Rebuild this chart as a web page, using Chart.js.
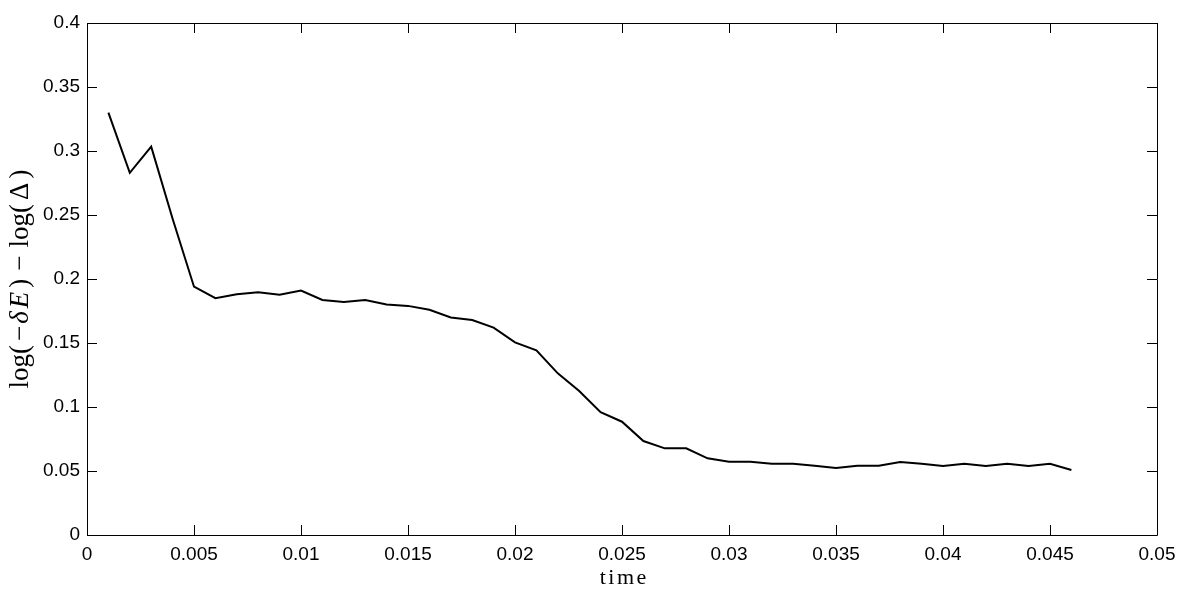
<!DOCTYPE html>
<html>
<head>
<meta charset="utf-8">
<script src="https://cdn.jsdelivr.net/npm/chart.js@4/dist/chart.umd.min.js"></script>
<style>
  body { margin: 0; background: #fff; }
  canvas { display: block; }
</style>
</head>
<body>
<canvas id="myChart" width="1187" height="610"></canvas>
<script>
// time steps (x) and measured values (y)
var times = [0.001, 0.002, 0.003, 0.004, 0.005, 0.006, 0.007, 0.008, 0.009, 0.010,
             0.011, 0.012, 0.013, 0.014, 0.015, 0.016, 0.017, 0.018, 0.019, 0.020,
             0.021, 0.022, 0.023, 0.024, 0.025, 0.026, 0.027, 0.028, 0.029, 0.030,
             0.031, 0.032, 0.033, 0.034, 0.035, 0.036, 0.037, 0.038, 0.039, 0.040,
             0.041, 0.042, 0.043, 0.044, 0.045, 0.046];
var values = [0.330, 0.283, 0.3034, 0.247, 0.194, 0.185, 0.188, 0.1896, 0.1877, 0.191,
              0.1836, 0.182, 0.1836, 0.180, 0.179, 0.176, 0.170, 0.168, 0.162, 0.1505,
              0.1443, 0.1263, 0.1125, 0.0959, 0.0885, 0.0734, 0.0677, 0.0677, 0.0599, 0.0573,
              0.0573, 0.0557, 0.0557, 0.0541, 0.0523, 0.0541, 0.0541, 0.057, 0.0557, 0.0539,
              0.0557, 0.0539, 0.0557, 0.0539, 0.0557, 0.0508];

var xTickLabels = ['0', '0.005', '0.01', '0.015', '0.02', '0.025', '0.03', '0.035', '0.04', '0.045', '0.05'];
var yTickLabels = ['0', '0.05', '0.1', '0.15', '0.2', '0.25', '0.3', '0.35', '0.4'];

var xLabel = 'time';
// y label pieces: [text, italic?, gap after]
var yLabelParts = [
    ['log(', false, 4], ['\u2212', false, 2], ['\u03B4', true, 3], ['E', true, 4], [')', false, 8],
    ['\u2212', false, 8], ['log(', false, 4], ['\u0394', false, 4], [')', false, 0]
];

var points = times.map(function(t, i) { return { x: t, y: values[i] }; });

// box around the plot with inward ticks on all four sides, plus the axis labels
var boxPlugin = {
    id: 'box',
    afterDraw: function(chart) {
        var ctx = chart.ctx;
        var a = chart.chartArea;
        var xs = chart.scales.x, ys = chart.scales.y;
        var len = 10;
        ctx.save();
        ctx.strokeStyle = '#000';
        ctx.lineWidth = 1;
        ctx.beginPath();
        ctx.rect(Math.round(a.left) + 0.5, Math.round(a.top) + 0.5,
                 Math.round(a.right - a.left), Math.round(a.bottom - a.top));
        ctx.stroke();
        ctx.beginPath();
        xs.ticks.forEach(function(tk) {
            var px = Math.round(xs.getPixelForValue(tk.value)) + 0.5;
            ctx.moveTo(px, a.bottom); ctx.lineTo(px, a.bottom - len);
            ctx.moveTo(px, a.top); ctx.lineTo(px, a.top + len);
        });
        ys.ticks.forEach(function(tk) {
            var py = Math.round(ys.getPixelForValue(tk.value)) + 0.5;
            ctx.moveTo(a.left, py); ctx.lineTo(a.left + len, py);
            ctx.moveTo(a.right, py); ctx.lineTo(a.right - len, py);
        });
        ctx.stroke();

        // x label, letter spaced
        ctx.fillStyle = '#000';
        ctx.textBaseline = 'middle';
        ctx.textAlign = 'left';
        ctx.font = '22px "Liberation Serif"';
        var sp = 2.5;
        var w = 0;
        xLabel.split('').forEach(function(c) { w += ctx.measureText(c).width + sp; });
        w -= sp;
        var x0 = (a.left + a.right) / 2 - w / 2 + 1;
        xLabel.split('').forEach(function(c) {
            ctx.fillText(c, x0, 578);
            x0 += ctx.measureText(c).width + sp;
        });

        // y label, rotated
        var fs = 27;
        var total = 0;
        yLabelParts.forEach(function(p) {
            ctx.font = (p[1] ? 'italic ' : '') + fs + 'px "Liberation Serif"';
            total += ctx.measureText(p[0]).width + p[2];
        });
        ctx.translate(21, (a.top + a.bottom) / 2);
        ctx.rotate(-Math.PI / 2);
        var pos = -total / 2;
        yLabelParts.forEach(function(p) {
            ctx.font = (p[1] ? 'italic ' : '') + fs + 'px "Liberation Serif"';
            ctx.fillText(p[0], pos, 0);
            pos += ctx.measureText(p[0]).width + p[2];
        });
        ctx.restore();
    }
};

var ctx = document.getElementById('myChart').getContext('2d');
var myChart = new Chart(ctx, {
    type: 'line',
    data: {
        datasets: [{
            data: points,
            borderColor: '#000',
            borderWidth: 2,
            pointRadius: 0,
            tension: 0,
            fill: false
        }]
    },
    options: {
        responsive: false,
        animation: false,
        layout: { padding: { top: 23, right: 30, left: 0, bottom: 0 } },
        plugins: {
            legend: { display: false },
            tooltip: { enabled: false }
        },
        scales: {
            x: {
                type: 'linear',
                min: 0,
                max: 0.05,
                grid: { display: false, drawTicks: false },
                border: { display: false },
                ticks: {
                    stepSize: 0.005,
                    padding: 8,
                    maxRotation: 0,
                    autoSkip: false,
                    color: '#000',
                    font: { family: 'Liberation Sans', size: 19 },
                    callback: function(v, i) { return xTickLabels[i]; }
                },
                afterFit: function(scale) { scale.height = 75; }
            },
            y: {
                min: 0,
                max: 0.4,
                grid: { display: false, drawTicks: false },
                border: { display: false },
                ticks: {
                    stepSize: 0.05,
                    padding: 7,
                    color: '#000',
                    font: { family: 'Liberation Sans', size: 19 },
                    callback: function(v, i) { return yTickLabels[i]; }
                },
                afterFit: function(scale) { scale.width = 87; }
            }
        }
    },
    plugins: [boxPlugin]
});
</script>
</body>
</html>
